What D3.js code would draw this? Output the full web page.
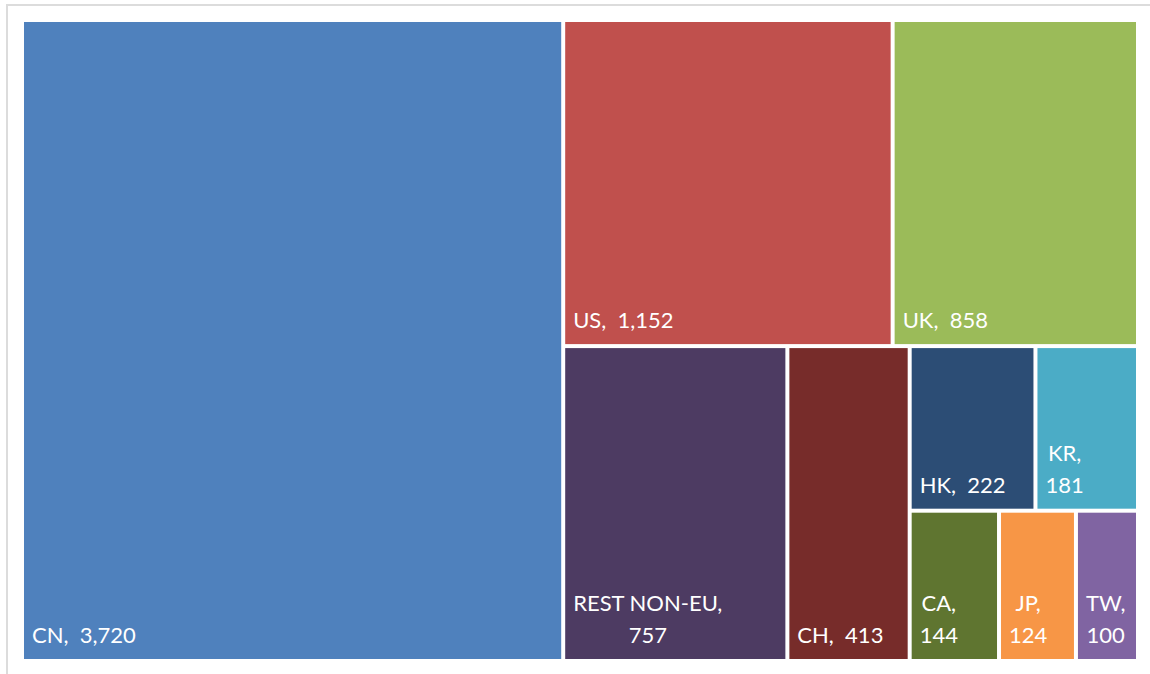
<!DOCTYPE html>
<html>
<head>
<meta charset="utf-8">
<script src="https://cdn.jsdelivr.net/npm/d3@7"></script>
<style>
  html, body { margin: 0; padding: 0; background: #fff; }
  svg { display: block; }
</style>
</head>
<body>
<svg id="chart" width="1150" height="674"></svg>
<script>
// ---- data ----
const names  = ["CN", "US", "UK", "REST NON-EU", "CH", "HK", "KR", "CA", "JP", "TW"];
const values = [3720, 1152, 858, 757, 413, 222, 181, 144, 124, 100];
// how many tiles Excel placed in each successive strip of its treemap
const stripSizes = [1, 2, 1, 1, 2, 3];
// palette (Office chart colours)
const palette = ["#4F81BD", "#C0504D", "#9BBB59", "#4D3B62", "#772C2A",
                 "#2C4D75", "#4BACC6", "#5F7530", "#F79646", "#8064A2"];

const W = 1150, H = 674;
const svg = d3.select("#chart");
const fmt = d3.format(",");

// chart frame (light grey border, clipped at the right/bottom of the picture)
svg.append("rect")
  .attr("x", 7).attr("y", 5)
  .attr("width", W + 20).attr("height", H + 20)
  .attr("fill", "#fff")
  .attr("stroke", "#dcdcdc").attr("stroke-width", 2);

// plot area
const area = {x: 22, y: 20, w: 1116, h: 641};
const gap = 2;

function stripTile(parent, x0, y0, x1, y1) {
  const nodes = parent.children;
  let i = 0, remaining = parent.value;
  stripSizes.forEach((k, s) => {
    const row = nodes.slice(i, i + k); i += k;
    const sum = d3.sum(row, d => d.value);
    const dx = x1 - x0, dy = y1 - y0;
    const grp = {children: row, value: sum};
    if (s === stripSizes.length - 1) {
      if (dx >= dy) d3.treemapDice(grp, x0, y0, x1, y1);
      else d3.treemapSlice(grp, x0, y0, x1, y1);
    } else if (dx >= dy) {
      const xm = x0 + dx * sum / remaining;
      d3.treemapSlice(grp, x0, y0, xm, y1);
      x0 = xm;
    } else {
      const ym = y0 + dy * sum / remaining;
      d3.treemapDice(grp, x0, y0, x1, ym);
      y0 = ym;
    }
    remaining -= sum;
  });
}

const root = d3.hierarchy({children: names.map((n, i) => ({name: n, value: values[i], color: palette[i]}))})
  .sum(d => d.value || 0);

d3.treemap().size([area.w, area.h]).tile(stripTile)(root);

const g = svg.append("g").attr("transform", `translate(${area.x},${area.y})`);

const cells = g.selectAll("g.cell").data(root.leaves()).join("g").attr("class", "cell");

cells.append("rect")
  .attr("x", d => d.x0 + gap)
  .attr("y", d => d.y0 + gap)
  .attr("width", d => d.x1 - d.x0 - 2 * gap)
  .attr("height", d => d.y1 - d.y0 - 2 * gap)
  .attr("fill", d => d.data.color);

const fontSize = 22, lineH = 32, padX = 8, padB = 16, wrapMargin = 29;

cells.each(function(d) {
  const cell = d3.select(this);
  const text = cell.append("text")
    .attr("fill", "#fff")
    .attr("font-family", "Lato, 'Open Sans', sans-serif")
    .attr("font-size", fontSize)
    .style("white-space", "pre");
  const full = d.data.name + ",  " + fmt(d.data.value);
  const t1 = text.append("tspan").text(full);
  const cellW = d.x1 - d.x0 - 2 * gap;
  let lines = [full];
  if (t1.node().getComputedTextLength() > cellW - wrapMargin) {
    lines = [d.data.name + ",", fmt(d.data.value)];
  }
  t1.remove();
  const tspans = lines.map(l => text.append("tspan").text(l));
  const widths = tspans.map(t => t.node().getComputedTextLength());
  const bw = d3.max(widths);
  const cx = d.x0 + gap + padX + bw / 2;
  const bottom = d.y1 - gap - padB;
  tspans.forEach((t, j) => {
    t.attr("x", cx)
     .attr("y", bottom - (lines.length - 1 - j) * lineH)
     .attr("text-anchor", "middle");
  });
});
</script>
</body>
</html>
